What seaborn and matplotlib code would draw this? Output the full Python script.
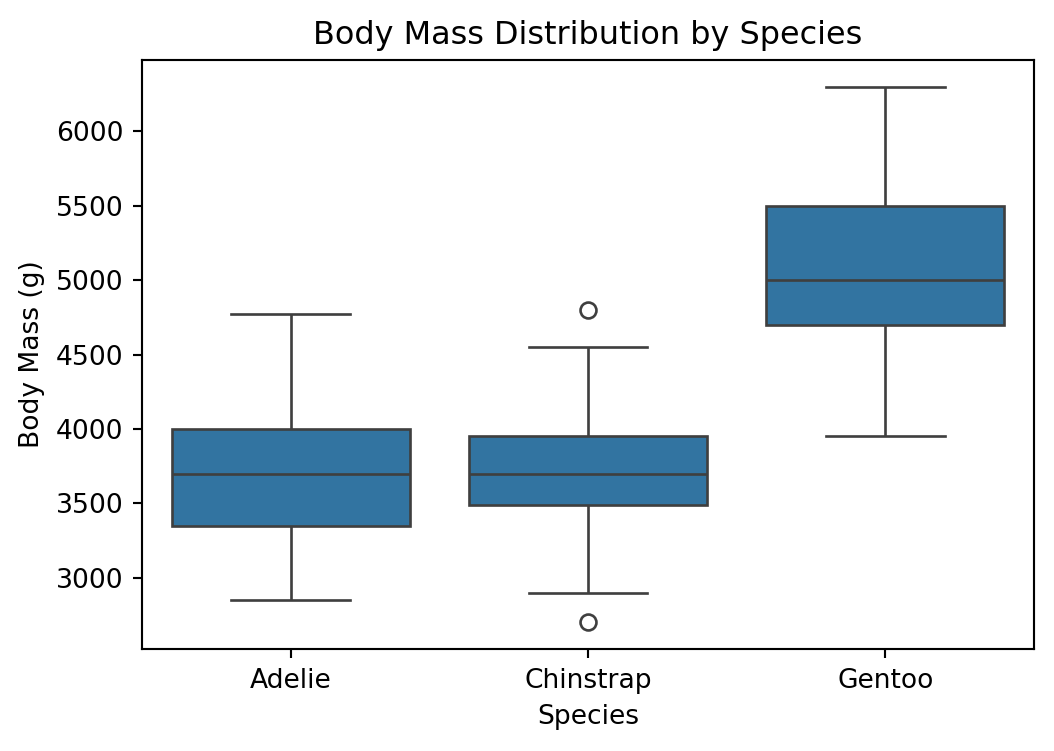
import matplotlib
matplotlib.use("Agg")
import matplotlib.pyplot as plt
import seaborn as sns
import pandas as pd

species = ["Adelie", "Chinstrap", "Gentoo"]
# Values chosen to reproduce the boxplot statistics
# (whisker ends, quartiles, medians, outliers)
adelie_mass = [2850, 3350, 3700, 4000, 4775]
chinstrap_mass = [2700, 2900, 3487.5, 3600, 3700, 3800, 3950, 4550, 4800]
gentoo_mass = [3950, 4700, 5000, 5500, 6300]

df = pd.DataFrame({
    "species": ["Adelie"] * len(adelie_mass)
    + ["Chinstrap"] * len(chinstrap_mass)
    + ["Gentoo"] * len(gentoo_mass),
    "body_mass_g": adelie_mass + chinstrap_mass + gentoo_mass,
})

DPI = 191
fig, ax = plt.subplots(figsize=(1054 / DPI, 751 / DPI), dpi=DPI)
sns.boxplot(data=df, x="species", y="body_mass_g", order=species, ax=ax)
ax.set_title("Body Mass Distribution by Species")
ax.set_xlabel("Species")
ax.set_ylabel("Body Mass (g)")
fig.subplots_adjust(left=0.1347, right=0.981, top=0.920, bottom=0.1358)
fig.savefig("out.png", dpi=DPI)
